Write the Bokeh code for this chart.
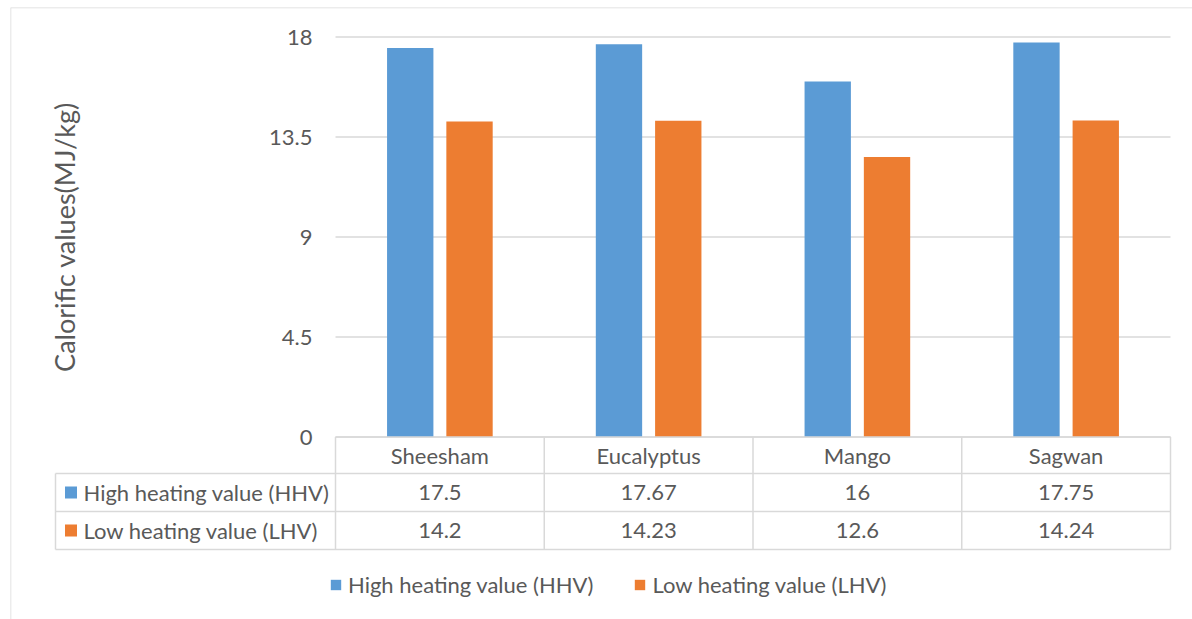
from bokeh.plotting import figure
from bokeh.models import (LinearAxis, FixedTicker, NumeralTickFormatter, Span,
                          Legend, LegendItem)
from bokeh.core.properties import value
from bokeh.embed import file_html
from bokeh.resources import INLINE

# ---- data -------------------------------------------------------------
species = ["Sheesham", "Eucalyptus", "Mango", "Sagwan"]
hhv = [17.5, 17.67, 16, 17.75]
lhv = [14.2, 14.23, 12.6, 14.24]
series_names = ["High heating value (HHV)", "Low heating value (LHV)"]
y_ticks = [0, 4.5, 9, 13.5, 18]
y_title = "Calorific values(MJ/kg)"

# ---- layout (canvas pixels) --------------------------------------------
W, H = 1192, 619
FRAME_L, FRAME_T = 10, 7            # outer chart border
PLOT_L, PLOT_R = 335, 1170          # value area, left/right
Y_ZERO, Y_TOP = 436.5, 36.5         # pixel rows of 0 and of the top tick
TABLE_L = 55
ROW_LINES = [473, 511, 549]         # table row separators
HEADER_MID, ROW_MIDS = 454.5, [492, 530]

BLUE, ORANGE = "#5B9BD5", "#ED7D31"
GRID = "#D9D9D9"
TXT = "#595959"
FONT = value("Lato")
FS = "22px"

n = len(species)
sx = (PLOT_R - PLOT_L) / n
sy = (Y_ZERO - Y_TOP) / max(y_ticks)


def xd(px):
    return (px - PLOT_L) / sx


def yd(py):
    return (Y_ZERO - py) / sy


p = figure(width=W, height=H, output_backend="svg", toolbar_location=None,
           x_range=(xd(FRAME_L), xd(W)), y_range=(yd(H), yd(FRAME_T)),
           x_axis_location=None, y_axis_location=None,
           min_border_left=FRAME_L, min_border_top=FRAME_T,
           min_border_right=0, min_border_bottom=0,
           outline_line_color=None, background_fill_color="white",
           border_fill_color="white")
p.xgrid.visible = False
p.ygrid.visible = False

# outer border, top and left edges only
p.add_layout(Span(location=p.y_range.end, dimension="width",
                  line_color=GRID, line_width=1.5))
p.add_layout(Span(location=p.x_range.start, dimension="height",
                  line_color=GRID, line_width=1.5))

# horizontal gridlines over the value area
p.segment(x0=[0] * len(y_ticks), x1=[n] * len(y_ticks), y0=y_ticks, y1=y_ticks,
          line_color=GRID, line_width=1.5)

# clustered columns
centers = [i + 0.5 for i in range(n)]
bar_w, offset = 0.222, 0.142
r_hhv = p.vbar(x=[c - offset for c in centers], top=hhv, width=bar_w,
               fill_color=BLUE, line_color=None)
r_lhv = p.vbar(x=[c + offset for c in centers], top=lhv, width=bar_w,
               fill_color=ORANGE, line_color=None)

# value axis
yaxis = LinearAxis(ticker=FixedTicker(ticks=y_ticks),
                   formatter=NumeralTickFormatter(format="0.[0]"),
                   fixed_location=0,
                   axis_line_color=None, major_tick_line_color=None,
                   minor_tick_line_color=None, major_tick_out=0, major_tick_in=0,
                   major_label_standoff=23,
                   major_label_text_font_size=FS,
                   major_label_text_color=TXT,
                   major_label_text_font="Lato")
p.add_layout(yaxis, "left")

# axis title
p.text(x=[xd(64)], y=[max(y_ticks) / 2], text=[y_title], angle=1.5708,
       text_align="center", text_baseline="middle", text_font=FONT,
       text_font_size="27px", text_color=TXT)

# ---- data table ---------------------------------------------------------
y_bottom = yd(ROW_LINES[-1])
# verticals: category column borders
p.segment(x0=list(range(n + 1)), x1=list(range(n + 1)),
          y0=[0] * (n + 1), y1=[y_bottom] * (n + 1),
          line_color=GRID, line_width=1.5)
# left edge of the series-name column
p.segment(x0=[xd(TABLE_L)], x1=[xd(TABLE_L)], y0=[yd(ROW_LINES[0])], y1=[y_bottom],
          line_color=GRID, line_width=1.5)
# horizontals
p.segment(x0=[0] + [xd(TABLE_L)] * len(ROW_LINES), x1=[n] * (len(ROW_LINES) + 1),
          y0=[0] + [yd(r) for r in ROW_LINES], y1=[0] + [yd(r) for r in ROW_LINES],
          line_color=GRID, line_width=1.5)

p.text(x=centers, y=[yd(HEADER_MID)] * n, text=species, text_align="center",
       text_baseline="middle", text_font=FONT, text_font_size=FS, text_color=TXT)
for vals, ym in zip([hhv, lhv], ROW_MIDS):
    p.text(x=centers, y=[yd(ym)] * n, text=[f"{v:g}" for v in vals],
           text_align="center", text_baseline="middle", text_font=FONT,
           text_font_size=FS, text_color=TXT)

p.scatter(x=[xd(70.5)] * 2, y=[yd(m) for m in ROW_MIDS], marker="square", size=12,
          fill_color=[BLUE, ORANGE], line_color=None)
p.text(x=[xd(83)] * 2, y=[yd(m) for m in ROW_MIDS], text=series_names,
       text_align="left", text_baseline="middle", text_font=FONT,
       text_font_size=FS, text_color=TXT)

# ---- legend -------------------------------------------------------------
legend = Legend(items=[LegendItem(label=series_names[0], renderers=[r_hhv]),
                       LegendItem(label=series_names[1], renderers=[r_lhv])],
                orientation="horizontal", location=(319, 21),
                padding=0, margin=0, spacing=40,
                glyph_width=13, glyph_height=13, label_standoff=6,
                label_text_font="Lato", label_text_font_size=FS,
                label_text_color=TXT, border_line_color=None,
                background_fill_alpha=0)
p.add_layout(legend)

open("out.html", "w").write(file_html(p, INLINE))
